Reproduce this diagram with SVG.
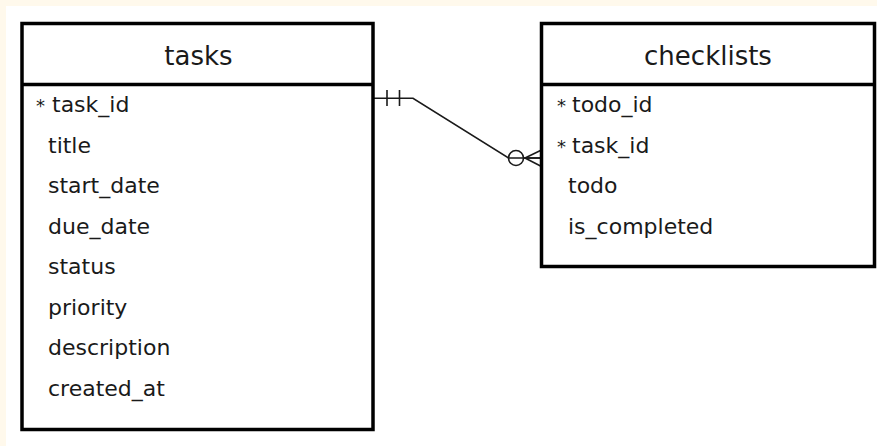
<svg xmlns="http://www.w3.org/2000/svg" width="877" height="446" viewBox="0 0 877 446">
<style>
.box{fill:#ffffff;stroke:#000000;stroke-width:3.5}
.sep{stroke:#000000;stroke-width:3.5}
.hdr{font-family:"DejaVu Sans",sans-serif;font-size:26px;fill:#1a1a1a;text-anchor:middle}
.fld{font-family:"DejaVu Sans",sans-serif;font-size:22px;fill:#1a1a1a}
.ast{font-size:18px}
.ln{fill:none;stroke:#1a1a1a;stroke-width:1.6}
</style>
<rect x="0" y="0" width="877" height="446" fill="#fff9ec"/>
<rect x="6" y="6" width="871" height="440" fill="#ffffff"/>
<g id="connectors">
<polyline class="ln" points="373,98.3 413,98.3 508.5,158 541.5,158"/>
<line class="ln" x1="387" y1="90" x2="387" y2="106"/>
<line class="ln" x1="399.5" y1="90" x2="399.5" y2="106"/>
<circle class="ln" cx="516" cy="158" r="7.5" fill="#ffffff"/>
<line class="ln" x1="523.5" y1="158" x2="541.5" y2="158"/>
<line class="ln" x1="525" y1="158" x2="541.5" y2="150"/>
<line class="ln" x1="525" y1="158" x2="541.5" y2="166.5"/>
</g>
<g id="tasks">
<rect class="box" x="22" y="23.5" width="351" height="406"/>
<line class="sep" x1="22" y1="84.5" x2="373" y2="84.5"/>
<text class="hdr" x="198.5" y="65">tasks</text>
<text class="fld" x="36" y="112"><tspan class="ast">*</tspan><tspan x="52">task_id</tspan></text>
<text class="fld" x="48" y="152.5">title</text>
<text class="fld" x="48" y="193.1">start_date</text>
<text class="fld" x="48" y="233.6">due_date</text>
<text class="fld" x="48" y="274.2">status</text>
<text class="fld" x="48" y="314.7">priority</text>
<text class="fld" x="48" y="355.3">description</text>
<text class="fld" x="48" y="395.9">created_at</text>
</g>
<g id="checklists">
<rect class="box" x="541.5" y="23.5" width="333" height="243"/>
<line class="sep" x1="541.5" y1="84.5" x2="874.5" y2="84.5"/>
<text class="hdr" x="708" y="65">checklists</text>
<text class="fld" x="557" y="112"><tspan class="ast">*</tspan><tspan x="572">todo_id</tspan></text>
<text class="fld" x="557" y="152.5"><tspan class="ast">*</tspan><tspan x="572">task_id</tspan></text>
<text class="fld" x="568" y="193.1">todo</text>
<text class="fld" x="568" y="233.6">is_completed</text>
</g>
</svg>
